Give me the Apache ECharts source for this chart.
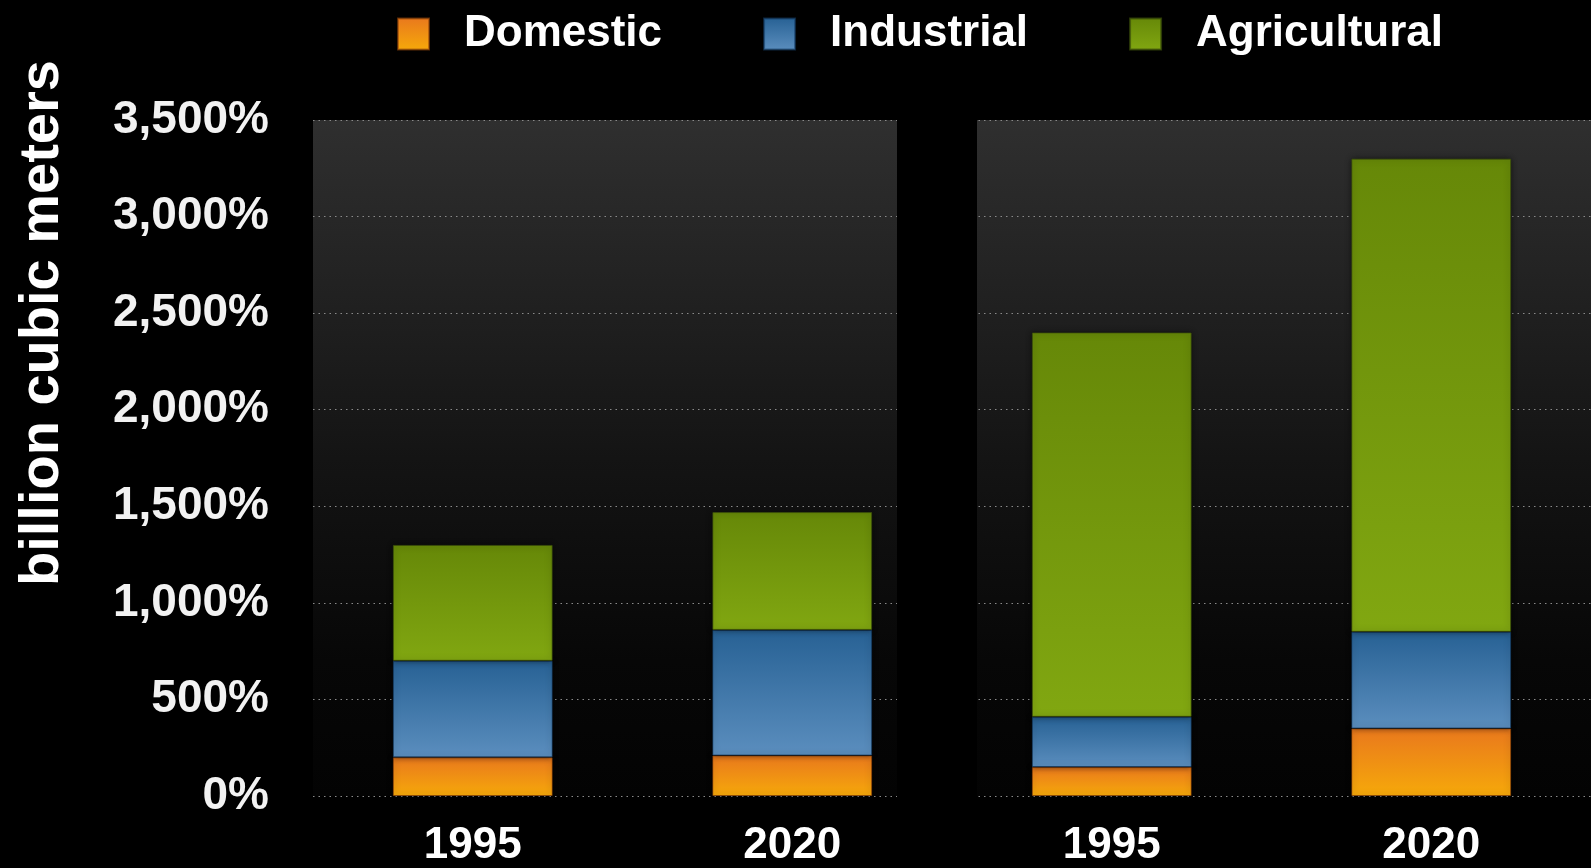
<!DOCTYPE html>
<html>
<head>
<meta charset="utf-8">
<script src="https://cdn.jsdelivr.net/npm/echarts@6/dist/echarts.min.js"></script>
<style>
html,body{margin:0;padding:0;background:#000;}
#chart{width:1591px;height:868px;}
</style>
</head>
<body>
<div id="chart"></div>
<script>
const categories = ['1995', '2020', '1995', '2020'];
const domestic = [200, 210, 150, 350];
const industrial = [500, 650, 260, 500];
const agricultural = [600, 610, 1990, 2450];
const seriesNames = ['Domestic', 'Industrial', 'Agricultural'];
const yAxisTitle = 'billion cubic meters';

const FONT = '"Liberation Sans", Arial, Helvetica, sans-serif';

function vgrad(top, bottom) {
  return new echarts.graphic.LinearGradient(0, 0, 0, 1, [
    { offset: 0, color: top },
    { offset: 1, color: bottom }
  ]);
}

const chart = echarts.init(document.getElementById('chart'));

function mkSeries(name, data, top, bottom, border) {
  return {
    name: name,
    type: 'bar',
    stack: 'total',
    data: data,
    barWidth: '50%',
    itemStyle: {
      color: vgrad(top, bottom),
      borderColor: border,
      borderWidth: 1,
      shadowColor: 'rgba(0,0,0,0.55)',
      shadowBlur: 6
    },
    z: 5
  };
}

chart.setOption({
  backgroundColor: '#000',
  animation: false,
  textStyle: { fontFamily: FONT },
  legend: {
    left: 392,
    top: 7,
    itemWidth: 31,
    itemHeight: 31,
    itemGap: 101,
    icon: 'rect',
    data: seriesNames,
    textStyle: {
      color: '#fff',
      fontSize: 44,
      fontWeight: 'bold',
      fontFamily: FONT,
      padding: [0, 0, 0, 30]
    }
  },
  grid: {
    left: 313,
    top: 120,
    bottom: 69,
    width: 1280,
    show: true,
    borderWidth: 0,
    backgroundColor: new echarts.graphic.LinearGradient(0, 0, 0, 1, [
      { offset: 0, color: '#2f2f2f' },
      { offset: 0.5, color: '#141414' },
      { offset: 0.8, color: '#070707' },
      { offset: 1, color: '#030303' }
    ])
  },
  xAxis: {
    type: 'category',
    data: categories,
    axisLine: { show: false },
    axisTick: { show: false },
    axisLabel: {
      color: '#fff',
      fontSize: 44,
      fontWeight: 'bold',
      fontFamily: FONT,
      margin: 28
    }
  },
  yAxis: {
    type: 'value',
    min: 0,
    max: 3500,
    interval: 500,
    axisLine: { show: false },
    axisTick: { show: false },
    splitLine: {
      show: true,
      lineStyle: { color: '#8a8a8a', width: 1, type: [1.5, 4] }
    },
    axisLabel: {
      color: '#f2f2f2',
      fontSize: 46,
      fontWeight: 'bold',
      fontFamily: FONT,
      margin: 44,
      formatter: function (v) { return v.toLocaleString('en-US') + '%'; }
    }
  },
  graphic: [
    {
      type: 'rect',
      z: 1,
      shape: { x: 897, y: 110, width: 80, height: 700 },
      style: { fill: '#000' },
      silent: true
    },
    {
      type: 'text',
      z: 10,
      x: 43,
      y: 323,
      rotation: Math.PI / 2,
      style: {
        text: yAxisTitle,
        fill: '#fff',
        font: 'bold 56px ' + FONT,
        textAlign: 'center',
        textVerticalAlign: 'middle'
      }
    }
  ],
  series: [
    mkSeries(seriesNames[0], domestic, '#e9781d', '#f6a90a', 'rgba(150,70,10,0.6)'),
    mkSeries(seriesNames[1], industrial, '#276194', '#5b8ebe', 'rgba(20,60,100,0.6)'),
    mkSeries(seriesNames[2], agricultural, '#668808', '#81a711', 'rgba(60,80,10,0.7)')
  ]
});
</script>
</body>
</html>
